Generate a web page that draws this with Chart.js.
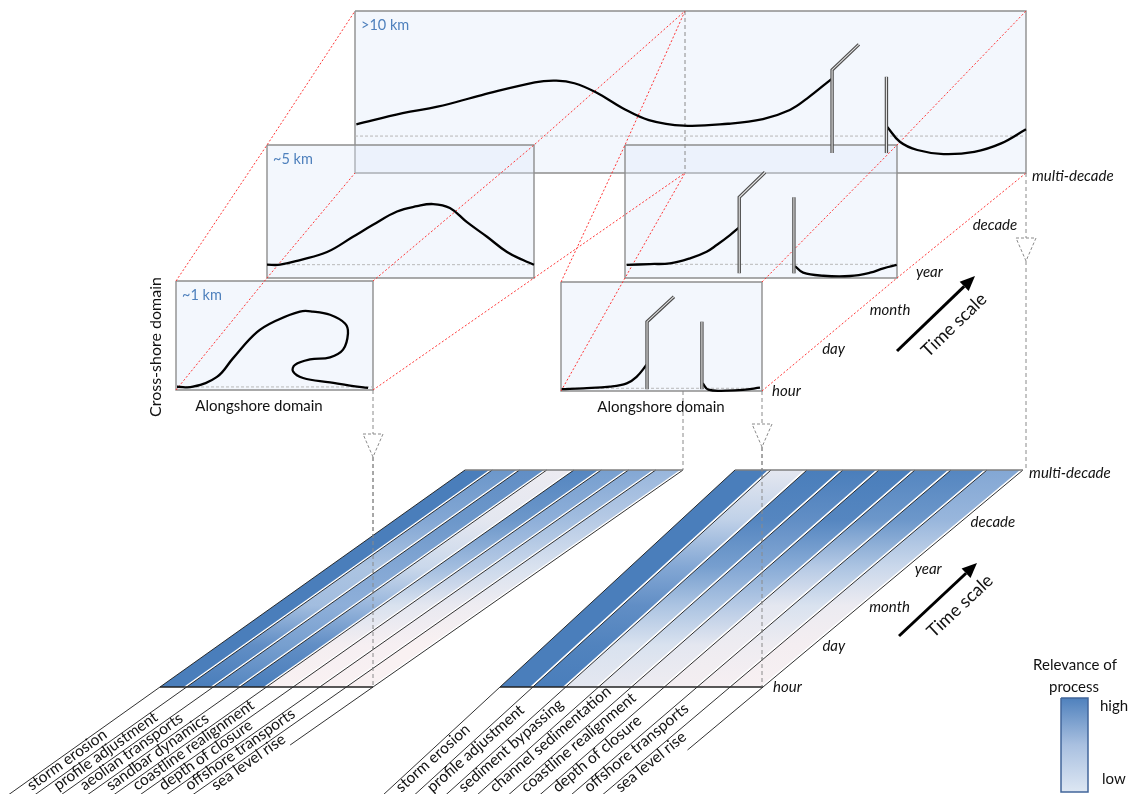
<!DOCTYPE html>
<html>
<head>
<meta charset="utf-8">
<script src="https://cdn.jsdelivr.net/npm/chart.js@4.4.1/dist/chart.umd.min.js"></script>
<style>
  html, body { margin: 0; padding: 0; background: #fff; }
  #wrap { width: 1136px; height: 794px; }
</style>
</head>
<body>
<div id="wrap"><canvas id="scheme" width="1136" height="794"></canvas></div>
<script>
// ---- data ----
const timeScales = ['hour', 'day', 'month', 'year', 'decade', 'multi-decade']
const spatialScales = ['~1 km', '~5 km', '>10 km']

// shoreline traces as [alongshore, cross-shore], fraction of the panel
const natural1km = [[0.005, 0.03], [0.086, 0.03], [0.208, 0.12], [0.289, 0.29], [0.411, 0.53], [0.513, 0.64], [0.629, 0.72], [0.695, 0.72], [0.782, 0.69], [0.858, 0.61], [0.873, 0.52], [0.848, 0.37], [0.782, 0.30], [0.680, 0.28], [0.604, 0.23], [0.594, 0.17], [0.645, 0.11], [0.782, 0.07], [0.883, 0.04], [0.975, 0.02]]
const natural5km = [[0, 0.10], [0.049, 0.10], [0.124, 0.135], [0.225, 0.195], [0.322, 0.31], [0.397, 0.40], [0.487, 0.50], [0.562, 0.54], [0.622, 0.556], [0.685, 0.526], [0.749, 0.42], [0.824, 0.31], [0.899, 0.195], [0.959, 0.135], [1, 0.10]]
const regional10km = [[0.002, 0.30], [0.071, 0.369], [0.123, 0.409], [0.189, 0.481], [0.268, 0.56], [0.300, 0.57], [0.327, 0.554], [0.359, 0.498], [0.399, 0.40], [0.438, 0.327], [0.49, 0.292], [0.556, 0.304], [0.608, 0.333], [0.648, 0.389], [0.674, 0.461], [0.710, 0.58]]
const regional10kmDowndrift = [[0.793, 0.286], [0.812, 0.193], [0.838, 0.142], [0.877, 0.117], [0.923, 0.131], [0.963, 0.183], [1.0, 0.27]]
const inlet5kmUpdrift = [[0.006, 0.098], [0.092, 0.105], [0.165, 0.11], [0.239, 0.148], [0.30, 0.198], [0.337, 0.248], [0.386, 0.323], [0.42, 0.381]]
const inlet5kmDowndrift = [[0.625, 0.09], [0.655, 0.04], [0.729, 0.017], [0.827, 0.015], [0.901, 0.04], [0.95, 0.073], [0.999, 0.098]]
const inlet1kmUpdrift = [[0.003, 0.018], [0.111, 0.025], [0.244, 0.04], [0.327, 0.07], [0.376, 0.13], [0.426, 0.24]]
const inlet1kmDowndrift = [[0.705, 0.07], [0.733, 0.012], [0.824, 0.003], [0.905, 0.01], [0.99, 0.03]]

// jetties: updrift one with bent head, downdrift one straight
const jetties10km = [[[0.711, 0.123], [0.711, 0.636], [0.751, 0.794]], [[0.792, 0.123], [0.792, 0.594]]]
const jetties5km = [[[0.42, 0.035], [0.42, 0.607], [0.515, 0.795]], [[0.621, 0.035], [0.621, 0.607]]]
const jetties1km = [[[0.428, 0.016], [0.428, 0.636], [0.562, 0.865]], [[0.701, 0.016], [0.701, 0.636]]]

// reference (initial) shoreline, cross-shore fraction
const refLevels = { nat1: 0.028, nat5: 0.10, big: 0.228, inl1: 0.025, inl5: 0.103 }

const naturalProcesses = ['storm erosion', 'profile adjustment', 'aeolian transports', 'sandbar dynamics', 'coastline realignment', 'depth of closure', 'offshore transports', 'sea level rise']
const inletProcesses = ['storm erosion', 'profile adjustment', 'sediment bypassing', 'channel sedimentation', 'coastline realignment', 'depth of closure', 'offshore transports', 'sea level rise']

// relevance (0 low .. 1 high) at hour, day, month, year, decade, multi-decade
const naturalRelevance = [
    [1, 1, 1, 1, 1, 1],
    [1, 0.9, 0.6, 0.55, 0.75, 0.85],
    [0.95, 0.8, 0.7, 0.75, 0.85, 0.9],
    [1, 0.9, 0.65, 0.4, 0.2, 0.12],
    [0, 0.05, 0.3, 0.6, 0.85, 0.95],
    [0, 0.03, 0.2, 0.5, 0.7, 0.8],
    [0, 0.03, 0.15, 0.4, 0.6, 0.75],
    [0, 0, 0.1, 0.3, 0.5, 0.65]
]
const inletRelevance = [
    [1, 1, 1, 1, 1, 1],
    [1, 0.97, 0.9, 0.75, 0.45, 0.2],
    [0.2, 0.3, 0.55, 0.8, 0.95, 1],
    [0.15, 0.3, 0.55, 0.75, 0.9, 1],
    [0.1, 0.2, 0.5, 0.72, 0.95, 1],
    [0.05, 0.1, 0.2, 0.5, 0.85, 0.95],
    [0.03, 0.1, 0.3, 0.55, 0.85, 0.95],
    [0.02, 0.05, 0.12, 0.4, 0.65, 0.75]
]

// ---- layout ----
const W = 1136, H = 794
const frames = {
    nat1: { x0: 176, x1: 373, y0: 281, y1: 390 },
    nat5: { x0: 267, x1: 534, y0: 145, y1: 278 },
    big: { x0: 355, x1: 1026, y0: 11, y1: 173 },
    inl1: { x0: 561, x1: 762, y0: 282, y1: 391 },
    inl5: { x0: 625, x1: 897, y0: 145, y1: 278 }
}
const splitX = 685
const bigLeft = { x0: 355, x1: splitX, y0: 11, y1: 173 }
const bigRight = { x0: splitX, x1: 1026, y0: 11, y1: 173 }
const blocks = {
    natural: { bl: [160, 687], br: [373, 687], tl: [465, 470], tr: [683, 470], labelY: 791, labelDx: 18, tilt: 0, lastEnd: 745 },
    inlet: { bl: [500, 687], br: [763, 687], tl: [735, 470], tr: [1023, 470], labelY: 793, labelDx: 16, tilt: 1, lastEnd: 750 }
}
const tickFrac = [0, 0.19, 0.37, 0.545, 0.76, 0.985]
const FONT = 'Lato, "Open Sans", sans-serif'

const lerp = (a, b, t) => [a[0] + (b[0] - a[0]) * t, a[1] + (b[1] - a[1]) * t]
const xy = p => ({ x: p[0], y: p[1] })
const inFrame = (f, p) => ({ x: f.x0 + p[0] * (f.x1 - f.x0), y: f.y1 - p[1] * (f.y1 - f.y0) })
const unit = (a, b) => { const dx = b[0] - a[0], dy = b[1] - a[1], l = Math.hypot(dx, dy); return [dx / l, dy / l] }

function relevanceColor(r) {
    const stops = [[0, [249, 241, 242]], [0.35, [212, 223, 238]], [0.7, [142, 175, 217]], [1, [74, 126, 187]]]
    for (let i = 1; i < stops.length; i++) {
        if (r <= stops[i][0]) {
            const t = (r - stops[i - 1][0]) / (stops[i][0] - stops[i - 1][0])
            const c = stops[i - 1][1].map((v, j) => Math.round(v + (stops[i][1][j] - v) * t))
            return `rgb(${c.join(',')})`
        }
    }
    return 'rgb(74,126,187)'
}

function verticalGradient(yBottom, yTop, stops) {
    return (c) => {
        const chart = c.chart
        if (!chart.chartArea) return 'rgba(0,0,0,0)'
        const y = chart.scales.y
        const g = chart.ctx.createLinearGradient(0, y.getPixelForValue(yBottom), 0, y.getPixelForValue(yTop))
        stops.forEach(s => g.addColorStop(s[0], s[1]))
        return g
    }
}

// ---- datasets ----
const layers = []
function addLine(points, opts) {
    layers.push(Object.assign({
        data: points, showLine: true, pointRadius: 0, pointHoverRadius: 0,
        borderWidth: 1, borderColor: '#000', backgroundColor: 'rgba(0,0,0,0)', fill: false, tension: 0
    }, opts))
}
function addShape(points, opts) {
    addLine(points.concat([points[0]]), Object.assign({ fill: 'shape' }, opts))
}
function corners(f) {
    return [[f.x0, f.y0], [f.x1, f.y0], [f.x1, f.y1], [f.x0, f.y1]]
}

// panels
;['big', 'nat5', 'inl5', 'nat1', 'inl1'].forEach(k => {
    addShape(corners(frames[k]).map(xy), { backgroundColor: 'rgba(222,233,250,0.36)', borderColor: '#8e8e8e', borderWidth: 1.4 })
})
// reference lines
Object.keys(refLevels).forEach(k => {
    const f = frames[k]
    addLine([inFrame(f, [0, refLevels[k]]), inFrame(f, [1, refLevels[k]])], { borderColor: '#b8b8b8', borderDash: [3, 2] })
})
// zoom lines between spatial scales
const redLine = { borderColor: 'rgba(255,45,45,0.95)', borderDash: [2, 2], borderWidth: 1 }
;[[frames.nat1, frames.nat5, bigLeft], [frames.inl1, frames.inl5, bigRight]].forEach(chain => {
    for (let c = 0; c < 4; c++) addLine(chain.map(f => xy(corners(f)[c])), redLine)
})
// dashed drop lines and markers
const grayDash = { borderColor: '#8a8a8a', borderDash: [4, 3], borderWidth: 1 }
addLine([{ x: splitX, y: 11 }, { x: splitX, y: 173 }], grayDash)
addLine([{ x: 683, y: 391 }, { x: 683, y: 470 }], grayDash)
const drops = [[373, 390, 434, 687], [762, 391, 424, 687], [1026, 173, 238, 470]]
drops.forEach(([x, y0, yt, y1]) => {
    addLine([{ x, y: y0 }, { x, y: yt }], grayDash)
    addLine([{ x, y: yt + 23 }, { x, y: y1 }], grayDash)
    addShape([{ x: x - 10, y: yt }, { x: x + 10, y: yt }, { x, y: yt + 23 }], { backgroundColor: '#fff', borderColor: '#8a8a8a', borderDash: [3, 2] })
})

// shorelines
const shore = { borderColor: '#000', borderWidth: 2.3, tension: 0.4 }
addLine(natural1km.map(p => inFrame(frames.nat1, p)), shore)
addLine(natural5km.map(p => inFrame(frames.nat5, p)), shore)
addLine(regional10km.map(p => inFrame(frames.big, p)), shore)
addLine(regional10kmDowndrift.map(p => inFrame(frames.big, p)), shore)
addLine(inlet5kmUpdrift.map(p => inFrame(frames.inl5, p)), shore)
addLine(inlet5kmDowndrift.map(p => inFrame(frames.inl5, p)), shore)
addLine(inlet1kmUpdrift.map(p => inFrame(frames.inl1, p)), shore)
addLine(inlet1kmDowndrift.map(p => inFrame(frames.inl1, p)), shore)
;[[jetties10km, frames.big], [jetties5km, frames.inl5], [jetties1km, frames.inl1]].forEach(([js, f]) => {
    js.forEach(j => {
        const pts = j.map(p => inFrame(f, p))
        addLine(pts, { borderColor: '#4d4d4d', borderWidth: 3.4 })
        addLine(pts, { borderColor: '#e4e4e4', borderWidth: 1.1 })
    })
})

// process blocks
function addBlock(b, relevance) {
    const n = relevance.length
    relevance.forEach((rel, k) => {
        const gapB = 3 / (b.br[0] - b.bl[0]) * n
        const gapT = 3 / (b.tr[0] - b.tl[0]) * n
        const p0 = lerp(b.bl, b.br, k / n), p1 = lerp(b.bl, b.br, (k + 1 - gapB) / n)
        const t0 = lerp(b.tl, b.tr, k / n), t1 = lerp(b.tl, b.tr, (k + 1 - gapT) / n)
        const stops = rel.map((r, i) => [tickFrac[i] / tickFrac[tickFrac.length - 1] * 0.999, relevanceColor(r)])
        addShape([p0, p1, t1, t0].map(xy), { borderWidth: 0, backgroundColor: verticalGradient(b.bl[1], b.tl[1], stops) })
    })
    for (let k = 0; k <= n; k++) {
        const p = lerp(b.bl, b.br, k / n), t = lerp(b.tl, b.tr, k / n)
        const d = unit(t, p)
        const yEnd = k < n ? H + 6 : b.lastEnd
        const len = (yEnd - p[1]) / d[1]
        addLine([xy(t), xy(p), { x: p[0] + d[0] * len, y: p[1] + d[1] * len }], { borderColor: '#1a1a1a', borderWidth: 0.9 })
    }
    addLine([xy(b.tl), xy(b.tr)], { borderColor: '#7f7f7f', borderWidth: 1.4 })
    addLine([xy(b.bl), xy(b.br)], { borderColor: '#222', borderWidth: 1.5 })
}
addBlock(blocks.natural, naturalRelevance)
addBlock(blocks.inlet, inletRelevance)
// drop lines cross the blocks
addLine([{ x: 373, y: 457 }, { x: 373, y: 687 }], grayDash)
addLine([{ x: 762, y: 447 }, { x: 762, y: 687 }], grayDash)

// time arrows
const arrows = [{ from: [897, 351], to: [975, 276] }, { from: [899, 636], to: [977, 563] }]
arrows.forEach(a => {
    const u = unit(a.from, a.to), n = [-u[1], u[0]]
    const base = [a.to[0] - u[0] * 15, a.to[1] - u[1] * 15]
    addLine([xy(a.from), xy(base)], { borderColor: '#000', borderWidth: 3 })
    addShape([xy(a.to), { x: base[0] + n[0] * 6.5, y: base[1] + n[1] * 6.5 }, { x: base[0] - n[0] * 6.5, y: base[1] - n[1] * 6.5 }], { backgroundColor: '#000', borderWidth: 0 })
})

// legend bar
addShape([{ x: 1061, y: 698 }, { x: 1088, y: 698 }, { x: 1088, y: 792 }, { x: 1061, y: 792 }], {
    borderColor: '#41669a', borderWidth: 1.5,
    backgroundColor: verticalGradient(792, 698, [[0, '#dde7f3'], [0.5, '#a9c0e0'], [1, '#4f81bd']])
})

layers.forEach((d, i) => { d.order = layers.length - i })

// ---- text ----
const textPlugin = {
    id: 'schemeText',
    afterDatasetsDraw(chart) {
        const ctx = chart.ctx
        const X = v => chart.scales.x.getPixelForValue(v)
        const Y = v => chart.scales.y.getPixelForValue(v)
        function text(str, x, y, o = {}) {
            ctx.save()
            ctx.font = o.font || `15px ${FONT}`
            ctx.fillStyle = o.color || '#111'
            ctx.textAlign = o.align || 'left'
            ctx.textBaseline = o.baseline || 'middle'
            ctx.translate(X(x), Y(y))
            if (o.angle) ctx.rotate(o.angle)
            ctx.fillText(str, 0, o.dy || 0)
            ctx.restore()
        }

        ;['nat1', 'nat5', 'big'].forEach((k, i) => {
            text(spatialScales[i], frames[k].x0 + 6, frames[k].y0 + 14, { font: `14.5px ${FONT}`, color: '#4f81bd' })
        })
        text('Cross-shore domain', 156, 347, { angle: -Math.PI / 2, align: 'center', font: `16px ${FONT}` })
        text('Alongshore domain', 259, 406, { align: 'center', font: `15px ${FONT}` })
        text('Alongshore domain', 661, 407, { align: 'center', font: `15px ${FONT}` })

        const topEdge = [[frames.inl1.x1, frames.inl1.y1], [frames.big.x1, frames.big.y1]]
        const lowEdge = [blocks.inlet.br, blocks.inlet.tr]
        ;[topEdge, lowEdge].forEach(e => {
            timeScales.forEach((t, i) => {
                const p = lerp(e[0], e[1], tickFrac[i])
                text(t, p[0] + 10, p[1], { font: `italic 15px ${FONT}` })
            })
        })

        const tsCenters = [[954, 325], [960, 606]]
        arrows.forEach((a, i) => {
            const ang = Math.atan2(a.to[1] - a.from[1], a.to[0] - a.from[0])
            text('Time scale', tsCenters[i][0], tsCenters[i][1], { angle: ang, align: 'center', font: `18px ${FONT}` })
        })

        // each process name runs up its band, starting where the band's upper line leaves the picture
        ;[[blocks.natural, naturalProcesses], [blocks.inlet, inletProcesses]].forEach(([b, names]) => {
            names.forEach((name, k) => {
                const f = k / names.length
                const p = lerp(b.bl, b.br, f), t = lerp(b.tl, b.tr, f)
                const d = unit(t, p)
                const along = (b.labelY - p[1]) / d[1]
                const sx = p[0] + d[0] * along + b.labelDx
                const ang = Math.atan2(-d[1], -d[0]) + b.tilt * Math.PI / 180
                text(name, sx, b.labelY, { angle: ang, baseline: 'alphabetic', font: `15.5px ${FONT}` })
            })
        })

        text('Relevance of', 1075, 665, { align: 'center', font: `15px ${FONT}` })
        text('process', 1074, 687, { align: 'center', font: `15px ${FONT}` })
        text('high', 1100, 706, { font: `15px ${FONT}` })
        text('low', 1102, 779, { font: `15px ${FONT}` })
    }
}

new Chart(document.getElementById('scheme'), {
    type: 'scatter',
    data: { datasets: layers },
    options: {
        responsive: false,
        animation: false,
        devicePixelRatio: 1,
        events: [],
        layout: { padding: 0 },
        plugins: { legend: { display: false }, tooltip: { enabled: false } },
        scales: {
            x: { type: 'linear', min: 0, max: W, display: false },
            y: { type: 'linear', min: 0, max: H, reverse: true, display: false }
        }
    },
    plugins: [textPlugin]
})
</script>
</body>
</html>
